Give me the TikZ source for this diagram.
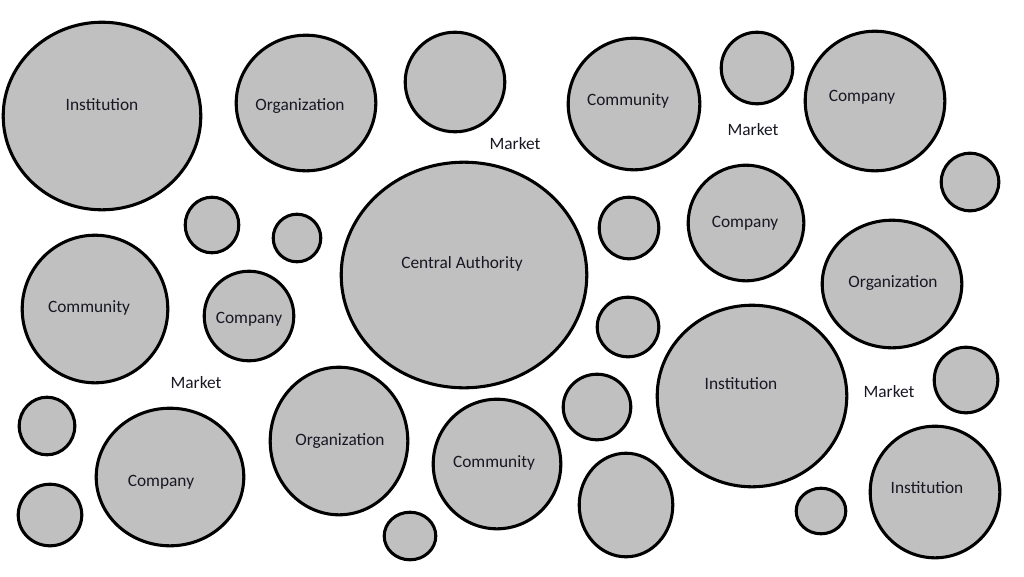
\documentclass[tikz,border=0pt]{standalone}
\usepackage{fontspec}
\setmainfont{Carlito}
\usetikzlibrary{shapes.geometric}
\definecolor{blobfill}{RGB}{192,192,192}
\definecolor{txtcol}{RGB}{24,24,36}
\tikzset{
	blob/.style 2 args={ellipse, draw=black, fill=blobfill, line width=2.3pt, inner sep=0pt,
		minimum width={1.5*(#1-1.2)}, minimum height={1.5*(#2-1.2)}},
	txt/.style={font=\fontsize{13}{15}\selectfont, text=txtcol, anchor=base, inner sep=0pt}
}
\begin{document}
\begin{tikzpicture}[x=0.75pt,y=-0.75pt]
	\useasboundingbox (0,0) rectangle (1024,576);

	% top row
	\node[blob={100}{95}] (inst1) at (102,116) {};
	\node[blob={71}{69}] (org1) at (306,103) {};
	\node[blob={51}{51}] (free1) at (455,82) {};
	\node[blob={67}{67}] (comm1) at (634,104) {};
	\node[blob={37}{37}] (free2) at (757,68) {};
	\node[blob={71}{71}] (comp1) at (875,101) {};
	\node[blob={30}{30}] (free3) at (970,182) {};

	% middle
	\node[blob={28}{29}] (free4) at (212,225) {};
	\node[blob={25}{25}] (free5) at (297,238) {};
	\node[blob={124}{114}] (central) at (464,275) {};
	\node[blob={31}{32}] (free6) at (629,228) {};
	\node[blob={59}{59}] (comp2) at (746,223) {};
	\node[blob={71}{65}] (org2) at (892,284) {};
	\node[blob={74}{75}] (comm2) at (95,309) {};
	\node[blob={46}{46}] (comp3) at (249,316) {};
	\node[blob={32}{31}] (free7) at (628,327) {};
	\node[blob={96}{92}] (inst2) at (752,396) {};
	\node[blob={33}{34}] (free8) at (966,380) {};

	% bottom row
	\node[blob={29}{30}] (free9) at (47,426) {};
	\node[blob={75}{70}] (comp4) at (170,477) {};
	\node[blob={70}{75}] (org3) at (339,441) {};
	\node[blob={35}{34}] (free10) at (597,407) {};
	\node[blob={65}{66}] (comm3) at (497,464) {};
	\node[blob={48}{53}] (free11) at (626,505) {};
	\node[blob={33}{32}] (free12) at (50,515) {};
	\node[blob={27}{25}] (free13) at (410,536) {};
	\node[blob={26}{24}] (free14) at (821,511) {};
	\node[blob={66}{67}] (inst3) at (935,492) {};

	% labels
	\node[txt] (inst1txt) at (102,110) {Institution};
	\node[txt] (org1txt) at (300,110) {Organization};
	\node[txt] (mkt1) at (515,149) {Market};
	\node[txt] (comm1txt) at (628,105) {Community};
	\node[txt] (mkt2) at (753,135) {Market};
	\node[txt] (comp1txt) at (862,101) {Company};
	\node[txt] (centraltxt) at (462,268) {Central Authority};
	\node[txt] (comp2txt) at (745,227) {Company};
	\node[txt] (org2txt) at (893,287) {Organization};
	\node[txt] (comm2txt) at (89,312) {Community};
	\node[txt] (comp3txt) at (249,323) {Company};
	\node[txt] (mkt3) at (196,388) {Market};
	\node[txt] (inst2txt) at (741,389) {Institution};
	\node[txt] (mkt4) at (889,397) {Market};
	\node[txt] (comp4txt) at (161,486) {Company};
	\node[txt] (org3txt) at (340,445) {Organization};
	\node[txt] (comm3txt) at (494,467) {Community};
	\node[txt] (inst3txt) at (927,493) {Institution};
\end{tikzpicture}
\end{document}
